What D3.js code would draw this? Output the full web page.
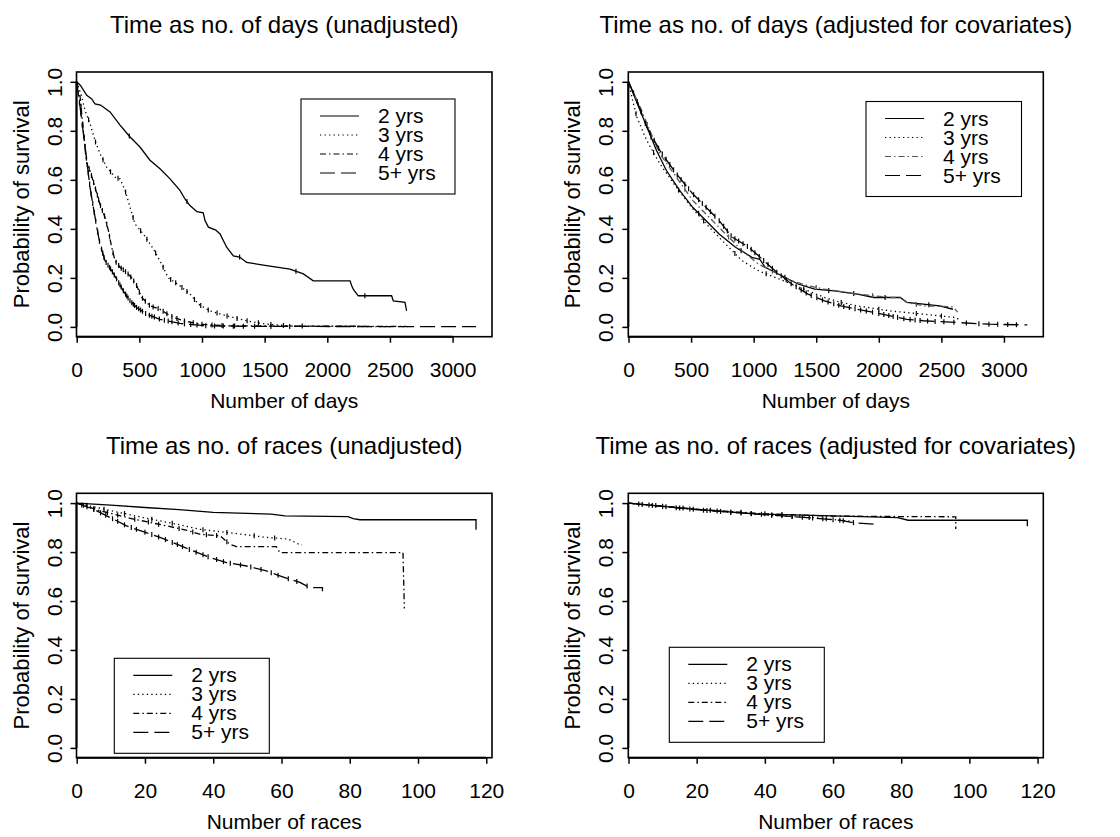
<!DOCTYPE html>
<html><head><meta charset="utf-8">
<script src="https://cdn.jsdelivr.net/npm/d3@7"></script>
<style>body{margin:0;background:#fff}svg{display:block}</style>
</head><body>
<svg id="c" width="1120" height="837"></svg>
<script>
// ---------- categories / ticks ----------
const groups = ["2 yrs", "3 yrs", "4 yrs", "5+ yrs"];
const dayTicks = [0, 500, 1000, 1500, 2000, 2500, 3000];
const raceTicks = [0, 20, 40, 60, 80, 100, 120];
const probTicks = [0, 0.2, 0.4, 0.6, 0.8, 1.0];
const panelTitles = [
  "Time as no. of days (unadjusted)",
  "Time as no. of days (adjusted for covariates)",
  "Time as no. of races (unadjusted)",
  "Time as no. of races (adjusted for covariates)"
];
const xLabels = ["Number of days", "Number of days", "Number of races", "Number of races"];
const yLabel = "Probability of survival";
const maxDays = 3187;
const maxRaces = 117;

// ---------- survival curves: [time, survival] ----------
// Panel 1: days, unadjusted
const daysUnadj2 = [[0,1],[30,0.985],[80,0.945],[120,0.93],[146,0.91],[190,0.905],[266,0.877],[346,0.823],[426,0.775],[505,0.734],[585,0.68],[665,0.645],[745,0.604],[824,0.557],[864,0.522],[904,0.495],[960,0.47],[1010,0.465],[1024,0.434],[1051,0.407],[1110,0.395],[1144,0.379],[1197,0.325],[1250,0.29],[1300,0.285],[1356,0.263],[1516,0.25],[1702,0.236],[1809,0.216],[1888,0.188],[2181,0.188],[2195,0.168],[2207,0.154],[2247,0.127],[2513,0.127],[2527,0.106],[2620,0.1],[2633,0.065]];
const daysUnadj3 = [[0,1],[20,0.97],[40,0.94],[66,0.884],[106,0.83],[146,0.76],[186,0.707],[239,0.652],[306,0.611],[346,0.604],[386,0.557],[426,0.488],[465,0.42],[532,0.379],[612,0.318],[678,0.256],[731,0.2],[824,0.168],[904,0.134],[971,0.093],[1064,0.065],[1197,0.045],[1356,0.025],[1516,0.011],[1702,0.004],[2000,0.002],[2640,0.001]];
const daysUnadj4 = [[0,1],[15,0.96],[27,0.94],[53,0.8],[80,0.666],[106,0.638],[146,0.57],[186,0.5],[226,0.447],[253,0.393],[279,0.325],[306,0.27],[346,0.243],[399,0.222],[439,0.2],[479,0.168],[519,0.12],[585,0.086],[665,0.072],[745,0.045],[851,0.025],[984,0.011],[1200,0.004],[2630,0.002]];
const daysUnadj5 = [[0,1],[10,0.96],[27,0.898],[53,0.79],[80,0.68],[106,0.57],[133,0.488],[160,0.407],[186,0.338],[226,0.27],[279,0.23],[319,0.195],[372,0.147],[426,0.106],[479,0.079],[559,0.052],[665,0.031],[824,0.014],[1037,0.004],[1500,0.002],[3187,0.001]];
// Panel 2: days, adjusted
const daysAdj2 = [[0,1],[92,0.884],[158,0.802],[224,0.72],[303,0.638],[408,0.557],[513,0.488],[618,0.434],[724,0.379],[855,0.325],[987,0.284],[1050,0.275],[1092,0.243],[1197,0.216],[1355,0.175],[1487,0.154],[1645,0.147],[1829,0.134],[1961,0.12],[2171,0.12],[2224,0.1],[2487,0.086],[2592,0.072]];
const daysAdj3 = [[0,1],[30,0.93],[66,0.857],[145,0.761],[250,0.666],[382,0.57],[513,0.482],[645,0.407],[776,0.338],[908,0.27],[1039,0.229],[1171,0.202],[1303,0.175],[1434,0.147],[1566,0.12],[1697,0.1],[1829,0.086],[2092,0.065],[2355,0.052],[2618,0.038],[2640,0.03]];
const daysAdj4 = [[0,1],[92,0.898],[158,0.816],[250,0.707],[382,0.611],[513,0.516],[645,0.447],[776,0.379],[908,0.311],[1039,0.256],[1171,0.222],[1303,0.188],[1434,0.168],[1566,0.154],[1829,0.134],[2092,0.12],[2171,0.12],[2224,0.1],[2355,0.086],[2592,0.082],[2630,0.06]];
const daysAdj5 = [[0,1],[66,0.925],[145,0.816],[250,0.72],[382,0.625],[513,0.543],[645,0.475],[724,0.434],[829,0.366],[961,0.325],[1039,0.29],[1171,0.229],[1303,0.175],[1434,0.134],[1566,0.106],[1697,0.086],[1829,0.072],[1961,0.059],[2092,0.045],[2224,0.031],[2355,0.025],[2618,0.018],[2882,0.011],[3187,0.008]];
// Panel 3: races, unadjusted
const racesUnadj2 = [[0,1],[10,0.992],[20,0.982],[30,0.973],[40,0.962],[50,0.958],[57,0.955],[61,0.948],[79.5,0.945],[81,0.937],[83,0.932],[117,0.932],[117,0.891]];
const racesUnadj3 = [[0,1],[10,0.969],[19.5,0.941],[29.3,0.914],[36,0.893],[46,0.877],[55.6,0.86],[62,0.853],[65.4,0.83],[66,0.829]];
const racesUnadj4 = [[0,1],[6.8,0.969],[16.6,0.935],[26.3,0.907],[32,0.89],[36,0.873],[42,0.866],[44.9,0.832],[46.8,0.822],[58.5,0.822],[59.5,0.798],[95.6,0.798],[96,0.569]];
const racesUnadj5 = [[0,1],[4.9,0.975],[9.8,0.941],[14.6,0.907],[19.5,0.883],[24.4,0.86],[29.3,0.832],[34,0.805],[39,0.778],[43.9,0.757],[49.8,0.743],[55.6,0.723],[59.5,0.703],[62.4,0.689],[65.4,0.676],[67.3,0.662],[69.3,0.655],[72,0.655],[72,0.64]];
// Panel 4: races, adjusted
const racesAdj2 = [[0,1],[19,0.975],[38,0.955],[60,0.948],[79,0.941],[82,0.93],[117,0.93],[117,0.905]];
const racesAdj3 = [[0,1],[20,0.973],[40,0.952],[55,0.94],[62,0.93],[66,0.925]];
const racesAdj4 = [[0,1],[20,0.975],[40,0.956],[60,0.947],[80,0.945],[96,0.944],[96,0.894]];
const racesAdj5 = [[0,1],[20,0.973],[40,0.953],[55,0.938],[62,0.93],[66,0.92],[72,0.914]];

// ---------- censoring times (+ marks) ----------
const cenDaysUnadj2 = [420, 880, 1300, 1750, 2300];
const cenDaysUnadj3 = [95, 150, 210, 270, 330, 390, 450, 510, 560, 630, 690, 750, 790, 840, 880, 940, 990, 1050, 1120, 1200, 1280, 1360, 1450, 1550, 1650, 1800];
const cenDaysUnadj4 = [35, 48, 58, 70, 85, 100, 118, 135, 150, 165, 175, 190, 205, 222, 240, 262, 290, 315, 335, 355, 372, 390, 410, 432, 455, 478, 500, 525, 548, 580, 610, 650, 690, 720, 760, 800, 860, 930, 1000, 1080, 1160, 1260];
const cenDaysUnadj5 = [22, 33, 45, 55, 66, 78, 92, 103, 115, 128, 140, 152, 168, 182, 198, 208, 218, 235, 250, 262, 270, 285, 300, 318, 335, 345, 355, 372, 390, 400, 410, 425, 440, 452, 462, 478, 495, 510, 525, 550, 580, 600, 620, 660, 700, 730, 760, 810, 860, 910, 960, 1030, 1100, 1170, 1250, 1330, 1420, 1550, 1700];
const cenDaysAdj2 = [180, 560, 900, 1250, 1600, 1800, 2050, 2400];
const cenDaysAdj3 = [60, 200, 400, 600, 850, 1100, 1400, 1700, 2000, 2300, 2500];
const cenDaysAdj4 = [150, 450, 800, 1150, 1500, 1950, 2300];
const cenDaysAdj5 = [40, 70, 100, 135, 170, 205, 240, 270, 300, 330, 360, 390, 420, 450, 480, 520, 560, 590, 620, 655, 690, 725, 760, 790, 820, 850, 880, 915, 950, 980, 1010, 1045, 1080, 1115, 1150, 1185, 1220, 1260, 1300, 1340, 1380, 1420, 1460, 1505, 1550, 1595, 1640, 1680, 1720, 1765, 1810, 1855, 1900, 1950, 2000, 2040, 2080, 2115, 2150, 2200, 2250, 2290, 2330, 2390, 2450, 2520, 2600, 2700, 2800, 2880, 2950, 3030, 3100];
const cenRacesUnadj2 = [];
const cenRacesUnadj3 = [3, 8, 14, 22, 28, 37, 44, 52, 58];
const cenRacesUnadj4 = [2, 5, 9, 12, 17, 21, 24, 30, 34, 38, 41, 44];
const cenRacesUnadj5 = [1.5, 3, 5, 7, 8.5, 10.5, 12, 14, 16, 17.5, 20, 22, 24, 26, 28, 29.5, 31, 33, 35, 37, 38.5, 41, 43, 45, 48, 51, 54, 57, 59, 62, 64.5, 67.5];
const cenRacesAdj2 = [4, 10, 18, 26];
const cenRacesAdj3 = [6, 14, 22, 30, 36, 42, 48, 53, 58, 62];
const cenRacesAdj4 = [8, 16, 24, 33, 40, 45];
const cenRacesAdj5 = [3, 7, 11, 15, 19, 23, 27, 30, 33, 36, 39, 42, 45, 48, 51, 54, 57, 60, 63, 66];

// ---------- styles ----------
const dashes = [null, "1.3,3.2", "6,3,1.5,3", "15,6"];
const FONT = "'Liberation Sans', Arial, Helvetica, sans-serif";

const panels = [
  {L: 76.5, R: 492, T: 72, B: 336.7, xMax: maxDays, ticks: dayTicks,
   series: [daysUnadj2, daysUnadj3, daysUnadj4, daysUnadj5],
   cens: [cenDaysUnadj2, cenDaysUnadj3, cenDaysUnadj4, cenDaysUnadj5],
   colors: ["#000","#000","#000","#000"], leg: {x: 301, y: 99, w: 154, h: 95}},
  {L: 628.3, R: 1043.3, T: 72, B: 336.7, xMax: maxDays, ticks: dayTicks,
   series: [daysAdj2, daysAdj3, daysAdj4, daysAdj5],
   cens: [cenDaysAdj2, cenDaysAdj3, cenDaysAdj4, cenDaysAdj5],
   colors: ["#000","#000","#555","#000"], leg: {x: 866, y: 101.5, w: 155.5, h: 95}},
  {L: 76.5, R: 492, T: 493.3, B: 757.7, xMax: maxRaces, ticks: raceTicks,
   series: [racesUnadj2, racesUnadj3, racesUnadj4, racesUnadj5],
   cens: [cenRacesUnadj2, cenRacesUnadj3, cenRacesUnadj4, cenRacesUnadj5],
   colors: ["#000","#000","#000","#000"], leg: {x: 114.3, y: 658.3, w: 155, h: 95}},
  {L: 628.3, R: 1043.3, T: 493.3, B: 757.7, xMax: maxRaces, ticks: raceTicks,
   series: [racesAdj2, racesAdj3, racesAdj4, racesAdj5],
   cens: [cenRacesAdj2, cenRacesAdj3, cenRacesAdj4, cenRacesAdj5],
   colors: ["#000","#000","#000","#000"], leg: {x: 669.3, y: 647.3, w: 155, h: 95}}
];

function valueAt(series, t) {
  for (let i = 1; i < series.length; i++) {
    const a = series[i-1], b = series[i];
    if (t <= b[0]) {
      if (b[0] === a[0]) return a[1];
      return a[1] + (b[1]-a[1]) * (t-a[0]) / (b[0]-a[0]);
    }
  }
  return series[series.length-1][1];
}

const svg = d3.select("#c");
svg.append("rect").attr("width",1120).attr("height",837).attr("fill","#fff");

panels.forEach((p, pi) => {
  const x = d3.scaleLinear().domain([0, p.xMax * 1.04]).range([p.L + 0.2, p.R]);
  const y = d3.scaleLinear().domain([-0.04, 1.04]).range([p.B, p.T]);
  const g = svg.append("g");

  // curves
  const line = d3.line().x(d => x(d[0])).y(d => y(d[1])).curve(d3.curveLinear);
  p.series.forEach((s, si) => {
    g.append("path").datum(s).attr("d", line)
      .attr("fill","none").attr("stroke", p.colors[si]).attr("stroke-width", 1.3)
      .attr("stroke-dasharray", dashes[si]);
    g.selectAll(null).data(p.cens[si]).enter().append("line")
      .attr("x1", t => x(t)).attr("x2", t => x(t))
      .attr("y1", t => y(valueAt(s, t)) - 2.5).attr("y2", t => y(valueAt(s, t)) + 2.5)
      .attr("stroke", p.colors[si]).attr("stroke-width", 1.2);
  });

  // box
  g.append("rect").attr("x", p.L).attr("y", p.T).attr("width", p.R - p.L).attr("height", p.B - p.T)
    .attr("fill","none").attr("stroke","#000").attr("stroke-width",1.6);

  // x axis
  const xa = g.append("g").attr("transform", `translate(0,${p.B})`)
    .call(d3.axisBottom(x).tickValues(p.ticks).tickSize(6).tickFormat(d3.format("d")));
  xa.select(".domain").remove();
  xa.selectAll(".tick line").attr("stroke","#000").attr("stroke-width",1.5);
  xa.selectAll(".tick text").attr("y", 40).attr("dy", 0)
    .attr("font-family", FONT).attr("font-size", 21).attr("fill","#000");
  xa.append("line").attr("x1", x(p.ticks[0])).attr("x2", x(p.ticks[p.ticks.length-1]))
    .attr("stroke","#000").attr("stroke-width",2);

  // y axis
  const ya = g.append("g").attr("transform", `translate(${p.L},0)`)
    .call(d3.axisLeft(y).tickValues(probTicks).tickSize(6).tickFormat(d3.format(".1f")));
  ya.select(".domain").remove();
  ya.selectAll(".tick line").attr("stroke","#000").attr("stroke-width",1.5);
  ya.selectAll(".tick text").attr("x", 0).attr("y", 0).attr("dy", 0)
    .attr("transform", "translate(-15,0) rotate(-90)").attr("text-anchor","middle")
    .attr("font-family", FONT).attr("font-size", 21).attr("fill","#000");
  ya.append("line").attr("y1", y(0)).attr("y2", y(1)).attr("stroke","#000").attr("stroke-width",2);

  // labels
  const cx = (p.L + p.R) / 2, cy = (p.T + p.B) / 2;
  g.append("text").attr("x", cx).attr("y", p.T - 39.5).attr("text-anchor","middle")
    .attr("font-family", FONT).attr("font-size", 24).text(panelTitles[pi]);
  g.append("text").attr("x", cx).attr("y", p.B + 71.5).attr("text-anchor","middle")
    .attr("font-family", FONT).attr("font-size", 21).text(xLabels[pi]);
  g.append("text").attr("transform", `translate(${p.L - 48},${cy}) rotate(-90)`)
    .attr("text-anchor","middle").attr("font-family", FONT).attr("font-size", 22).text(yLabel);

  // legend
  const lg = g.append("g").attr("transform", `translate(${p.leg.x},${p.leg.y})`);
  lg.append("rect").attr("width", p.leg.w).attr("height", p.leg.h)
    .attr("fill","#fff").attr("stroke","#000").attr("stroke-width",1.1);
  groups.forEach((name, i) => {
    const ry = 17 + i * 19;
    lg.append("line").attr("x1", 19).attr("x2", 58).attr("y1", ry).attr("y2", ry)
      .attr("stroke", p.colors[i]).attr("stroke-width", 1.2).attr("stroke-dasharray", dashes[i]);
    lg.append("text").attr("x", 77).attr("y", ry + 7)
      .attr("font-family", FONT).attr("font-size", 21).text(name);
  });
});
</script>
</body></html>
